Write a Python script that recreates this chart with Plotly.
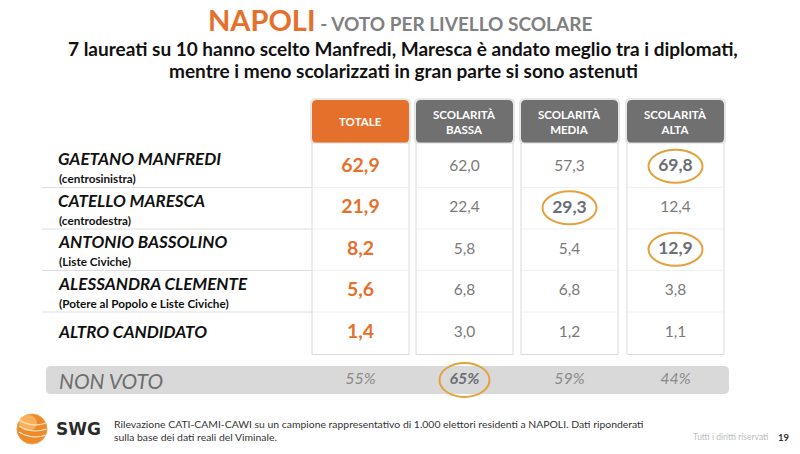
import plotly.graph_objects as go

# ---------------- data ----------------
candidates = ["GAETANO MANFREDI", "CATELLO MARESCA", "ANTONIO BASSOLINO",
              "ALESSANDRA CLEMENTE", "ALTRO CANDIDATO"]
coalitions = ["(centrosinistra)", "(centrodestra)", "(Liste Civiche)",
              "(Potere al Popolo e Liste Civiche)", ""]
columns = ["TOTALE", "SCOLARITÀ<br>BASSA", "SCOLARITÀ<br>MEDIA", "SCOLARITÀ<br>ALTA"]
totale = [62.9, 21.9, 8.2, 5.6, 1.4]
bassa = [62.0, 22.4, 5.8, 6.8, 3.0]
media = [57.3, 29.3, 5.4, 6.8, 1.2]
alta = [69.8, 12.4, 12.9, 3.8, 1.1]
non_voto = [55, 65, 59, 44]
# highlighted cells: (column index, row index)
highlights = [(3, 0), (2, 1), (3, 2)]
non_voto_highlight = 1

title_main = "NAPOLI"
title_rest = " - VOTO PER LIVELLO SCOLARE"
subtitle = ["7 laureati su 10 hanno scelto Manfredi, Maresca è andato meglio tra i diplomati,",
            "mentre i meno scolarizzati in gran parte si sono astenuti"]
footnote = ["Rilevazione CATI-CAMI-CAWI su un campione rappresentativo di 1.000 elettori residenti a NAPOLI. Dati riponderati",
            "sulla base dei dati reali del Viminale."]

# ---------------- layout geometry ----------------
FONT = "Lato"
ORANGE = "#E5702C"
HDR_GRAY = "#707070"
RING = "#E3A23E"
col_x0 = [312, 416, 521, 627]
col_w = 97
col_cx = [x + col_w / 2 for x in col_x0]
row_top = 146
row_h = 41.5
row_cy = [row_top + row_h * (i + 0.5) for i in range(len(candidates))]
table_bottom = row_top + row_h * len(candidates) + 1

def fmt(v):
    return f"{v:.1f}".replace(".", ",")

def rrect(x0, y0, x1, y1, r):
    return (f"M {x0+r},{y0} L {x1-r},{y0} Q {x1},{y0} {x1},{y0+r} "
            f"L {x1},{y1-r} Q {x1},{y1} {x1-r},{y1} L {x0+r},{y1} "
            f"Q {x0},{y1} {x0},{y1-r} L {x0},{y0+r} Q {x0},{y0} {x0+r},{y0} Z")

shapes = []
annotations = []

# header boxes (with light halo)
for j, x0 in enumerate(col_x0):
    shapes.append(dict(type="path", path=rrect(x0 - 2, 98, x0 + col_w + 2, 145, 6),
                       fillcolor="#E6E6E6", line=dict(width=0), layer="below"))
    shapes.append(dict(type="path", path=rrect(x0, 100, x0 + col_w, 143, 5),
                       fillcolor=ORANGE if j == 0 else HDR_GRAY, line=dict(width=0), layer="below"))
    annotations.append(dict(x=col_cx[j], y=121.5, text=f"<b>{columns[j]}</b>", showarrow=False,
                            font=dict(family=FONT, size=11.5, color="white"), xanchor="center",
                            yanchor="middle"))
    # column white cell
    shapes.append(dict(type="rect", x0=x0, x1=x0 + col_w, y0=143, y1=table_bottom,
                       fillcolor="white", line=dict(color="#DADADA", width=1), layer="below"))

# row separators
for i in range(1, len(candidates)):
    y = row_top + row_h * i
    shapes.append(dict(type="line", x0=42, x1=col_x0[0], y0=y, y1=y,
                       line=dict(color="#DEDEDE", width=1)))
    for x0 in col_x0:
        shapes.append(dict(type="line", x0=x0 + 1, x1=x0 + col_w - 1, y0=y, y1=y,
                           line=dict(color="#F0F0F0", width=1)))

# candidate names
for i, (n, c) in enumerate(zip(candidates, coalitions)):
    if c:
        annotations.append(dict(x=56, y=row_cy[i] - 8, text=f"<b><i>{n}</i></b>", showarrow=False,
                                xanchor="left", yanchor="middle",
                                font=dict(family=FONT, size=17, color="#111111")))
        annotations.append(dict(x=57, y=row_cy[i] + 11.5, text=f"<b>{c}</b>", showarrow=False,
                                xanchor="left", yanchor="middle",
                                font=dict(family=FONT, size=11.7, color="#111111")))
    else:
        annotations.append(dict(x=56, y=row_cy[i] - 1, text=f"<b><i>{n}</i></b>", showarrow=False,
                                xanchor="left", yanchor="middle",
                                font=dict(family=FONT, size=17, color="#111111")))

# NON VOTO band
nv_y = 380
shapes.append(dict(type="path", path=rrect(46, 366, 729, 394, 5), fillcolor="#D9D9D9",
                   line=dict(width=0), layer="below"))
annotations.append(dict(x=57, y=nv_y, text="<i>NON VOTO</i>", showarrow=False, xanchor="left",
                        yanchor="middle", font=dict(family=FONT, size=21, color="#6E6E6E")))

# highlight rings
for (j, i) in highlights:
    shapes.append(dict(type="circle", x0=col_cx[j] - 27, x1=col_cx[j] + 27,
                       y0=row_cy[i] - 17, y1=row_cy[i] + 16, line=dict(color=RING, width=2)))
j = non_voto_highlight
shapes.append(dict(type="circle", x0=col_cx[j] - 25, x1=col_cx[j] + 25,
                   y0=nv_y - 17, y1=nv_y + 17, line=dict(color=RING, width=2)))

# ---------------- value text trace ----------------
series = [totale, bassa, media, alta]
xs, ys, txt, colors, sizes = [], [], [], [], []
for j, vals in enumerate(series):
    for i, v in enumerate(vals):
        xs.append(col_cx[j]); ys.append(row_cy[i])
        if j == 0:
            txt.append(f"<b>{fmt(v)}</b>"); colors.append(ORANGE); sizes.append(19.5)
        elif (j, i) in highlights:
            txt.append(f"<b>{fmt(v)}</b>"); colors.append("#6B6E74"); sizes.append(17.5)
        else:
            txt.append(fmt(v)); colors.append("#7A7A7A"); sizes.append(15.5)
for j, v in enumerate(non_voto):
    xs.append(col_cx[j]); ys.append(nv_y)
    if j == non_voto_highlight:
        txt.append(f"<b><i>{v}%</i></b>"); colors.append("#6B6E74"); sizes.append(16)
    else:
        txt.append(f"<i>{v}%</i>"); colors.append("#8A8A8A"); sizes.append(16)

fig = go.Figure(go.Scatter(x=xs, y=ys, mode="text", text=txt,
                           textfont=dict(family=FONT, size=sizes, color=colors),
                           textposition="middle center", hoverinfo="skip", showlegend=False))

# ---------------- titles ----------------
annotations.append(dict(x=400, y=19, text=(f"<span style='font-size:29px;color:{ORANGE}'><b>{title_main}</b></span>"
                                           f"<span style='font-size:19px;color:#808080'><b>{title_rest}</b></span>"),
                        showarrow=False, xanchor="center", yanchor="middle", font=dict(family=FONT)))
annotations.append(dict(x=403, y=48, text=f"<b>{subtitle[0]}</b>", showarrow=False, xanchor="center",
                        yanchor="middle", font=dict(family=FONT, size=19, color="#111111")))
annotations.append(dict(x=403, y=70.5, text=f"<b>{subtitle[1]}</b>", showarrow=False, xanchor="center",
                        yanchor="middle", font=dict(family=FONT, size=19, color="#111111")))

# ---------------- footer ----------------
annotations.append(dict(x=112, y=424, text=footnote[0], showarrow=False, xanchor="left", yanchor="middle",
                        font=dict(family=FONT, size=10.4, color="#333333")))
annotations.append(dict(x=112, y=437, text=footnote[1], showarrow=False, xanchor="left", yanchor="middle",
                        font=dict(family=FONT, size=10.4, color="#333333")))
annotations.append(dict(x=770, y=437, text="Tutti i diritti riservati", showarrow=False, xanchor="right",
                        yanchor="middle", font=dict(family=FONT, size=8.5, color="#BDBDBD")))
annotations.append(dict(x=784, y=437, text="<b>19</b>", showarrow=False, xanchor="center",
                        yanchor="middle", font=dict(family=FONT, size=9.5, color="#333333")))
annotations.append(dict(x=54, y=429, text="<b>SWG</b>", showarrow=False, xanchor="left",
                        yanchor="middle", font=dict(family="DejaVu Sans", size=17, color="#2B2B2B")))
# logo sphere
shapes.append(dict(type="circle", x0=17, x1=47, y0=414, y1=444, fillcolor="#EE8A2A",
                   line=dict(color="#F2A04A", width=1)))
shapes.append(dict(type="circle", x0=19, x1=37, y0=415, y1=431, fillcolor="#F6B15A",
                   line=dict(width=0)))
for k, dy in enumerate([0, 6, 12]):
    shapes.append(dict(type="path", path=f"M 19,{420+dy} Q 32,{428+dy} 46,{423+dy}",
                       line=dict(color="#FBE0BE", width=1.3)))

W, H = 800, 454
fig.update_layout(
    width=W, height=H, margin=dict(l=0, r=0, t=0, b=0),
    paper_bgcolor="white", plot_bgcolor="white",
    xaxis=dict(range=[0, W], visible=False, fixedrange=True),
    yaxis=dict(range=[H, 0], visible=False, fixedrange=True),
    shapes=shapes, annotations=annotations,
    hovermode=False,
)
# remove the default page margin so the 800x454 figure fills the window exactly
fig.write_html("out.html", config={"displayModeBar": False, "staticPlot": True},
               post_script="document.body.style.margin='0';document.body.style.overflow='hidden';")
